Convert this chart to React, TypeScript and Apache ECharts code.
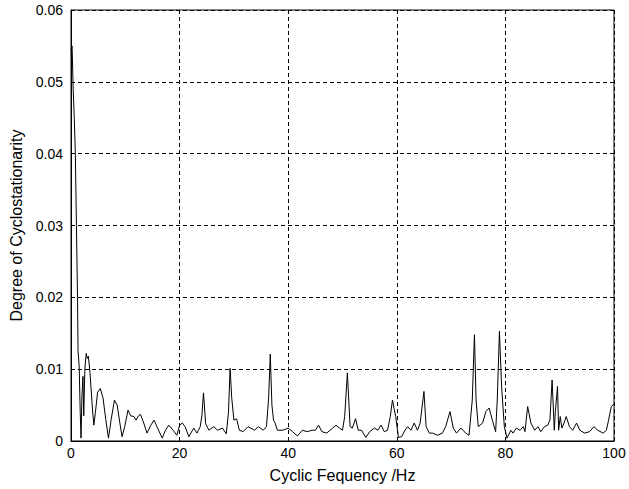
import React, { useEffect, useRef } from "react";
import * as echarts from "echarts";

const freqHz = [
  0, 0.2, 0.4, 0.6, 0.8, 1.0, 1.2, 1.3, 1.5, 1.7, 1.85, 2.0, 2.2, 2.35, 2.55, 2.8, 3.0, 3.2, 3.5, 3.9,
  4.2, 4.5, 4.9, 5.4, 5.9, 6.4, 6.9, 7.4, 8.0, 8.5, 9.0, 9.4, 9.9, 10.5, 11.0, 11.6, 12.0, 12.4, 12.8, 13.4,
  14.0, 14.7, 15.3, 16.0, 16.8, 17.4, 18.0, 18.8, 19.5, 20.0, 20.5, 21.0, 21.7, 22.6, 23.2, 23.8, 24.1, 24.4, 24.8, 25.4,
  26.3, 27.0, 27.9, 28.6, 29.0, 29.3, 29.6, 30.0, 30.5, 31.0, 31.7, 32.6, 33.8, 34.5, 35.4, 36.0, 36.4, 36.7, 37.0, 37.3,
  37.6, 38.0, 39.0, 40.0, 40.8, 41.7, 42.6, 43.5, 44.4, 45.0, 45.6, 46.2, 47.1, 47.7, 48.2, 48.8, 49.4, 50.0, 50.4, 50.9,
  51.4, 51.8, 52.4, 52.9, 53.5, 54.3, 55.0, 55.9, 56.5, 57.1, 57.7, 58.3, 58.8, 59.2, 59.5, 59.8, 60.3, 60.9, 61.5, 62.0,
  62.6, 63.2, 63.8, 64.3, 65.0, 65.4, 66.0, 66.6, 67.5, 68.4, 69.0, 69.8, 70.4, 71.0, 71.8, 72.7, 73.3, 73.9, 74.3, 74.6,
  75.0, 75.8, 76.4, 77.0, 77.6, 78.2, 78.5, 78.9, 79.3, 79.8, 80.3, 81.0, 81.4, 82.0, 82.7, 83.3, 83.6, 84.1, 84.7, 85.4,
  86.0, 86.5, 87.2, 87.8, 88.2, 88.6, 89.0, 89.2, 89.6, 89.8, 90.1, 90.4, 90.8, 91.2, 91.8, 92.4, 93.1, 93.7, 94.6, 95.5,
  96.3, 97.0, 98.0, 98.6, 99.0, 99.5, 99.8, 100
];

const degreeOfCyclostationarity = [
  0.0545, 0.055, 0.049, 0.045, 0.04, 0.03, 0.02, 0.0125, 0.0105, 0.004, 0.0004, 0.006, 0.009, 0.0035, 0.01, 0.0122, 0.0115, 0.0118, 0.0095, 0.005,
  0.0022, 0.004, 0.0068, 0.0073, 0.006, 0.003, 0.0004, 0.003, 0.0057, 0.005, 0.0025, 0.0006, 0.002, 0.0043, 0.0035, 0.0034, 0.0029, 0.0035, 0.0037, 0.0025,
  0.0011, 0.0022, 0.0029, 0.0017, 0.0004, 0.0015, 0.0022, 0.0015, 0.0008, 0.0022, 0.0025, 0.002, 0.0006, 0.0018, 0.0011, 0.002, 0.0035, 0.0067, 0.0024, 0.0015,
  0.002, 0.0015, 0.0018, 0.001, 0.004, 0.0101, 0.006, 0.0029, 0.0031, 0.0015, 0.0013, 0.002, 0.0015, 0.002, 0.0015, 0.002, 0.006, 0.0121, 0.005, 0.0029,
  0.0025, 0.0015, 0.0015, 0.0018, 0.0013, 0.0007, 0.0015, 0.0013, 0.0015, 0.0015, 0.0022, 0.0013, 0.0011, 0.0015, 0.0018, 0.0022, 0.0018, 0.0015, 0.0034, 0.0095,
  0.002, 0.0018, 0.0031, 0.0015, 0.0015, 0.0005, 0.0013, 0.0018, 0.0015, 0.0022, 0.0013, 0.0015, 0.0034, 0.0057, 0.0045, 0.0034, 0.0005, 0.0006, 0.0015, 0.002,
  0.0015, 0.0025, 0.0015, 0.0025, 0.0069, 0.002, 0.0011, 0.0011, 0.0008, 0.0011, 0.002, 0.0041, 0.0018, 0.0011, 0.0018, 0.0011, 0.0008, 0.0057, 0.0148, 0.0057,
  0.002, 0.0025, 0.0041, 0.0046, 0.0029, 0.0013, 0.0057, 0.0153, 0.0076, 0.002, 0.0004, 0.0015, 0.0011, 0.0018, 0.0015, 0.002, 0.0013, 0.0048, 0.0025, 0.0015,
  0.002, 0.0013, 0.002, 0.0022, 0.0029, 0.0085, 0.0015, 0.0041, 0.0076, 0.0015, 0.0034, 0.0018, 0.0025, 0.0034, 0.002, 0.0015, 0.0025, 0.0015, 0.0011, 0.0013,
  0.002, 0.0015, 0.0011, 0.0015, 0.0029, 0.0048, 0.005, 0.0052
];

const xTickValues = [0, 20, 40, 60, 80, 100];
const yTickValues = [0, 0.01, 0.02, 0.03, 0.04, 0.05, 0.06];

const xTitle = "Cyclic Fequency /Hz";
const yTitle = "Degree of Cyclostationarity";

export default function App() {
  const ref = useRef<HTMLDivElement>(null);

  useEffect(() => {
    if (!ref.current) return;
    const chart = echarts.init(ref.current, null, { renderer: "svg" });
    const seriesData = freqHz.map((f, i) => [f, degreeOfCyclostationarity[i]]);
    const font = "Liberation Sans, Arial, sans-serif";
    chart.setOption({
      animation: false,
      backgroundColor: "#ffffff",
      grid: {
        left: 71,
        right: 15,
        top: 10,
        bottom: 48,
        show: true,
        borderColor: "#000",
        borderWidth: 1,
        backgroundColor: "transparent",
      },
      xAxis: {
        type: "value",
        min: xTickValues[0],
        max: xTickValues[xTickValues.length - 1],
        interval: 20,
        name: xTitle,
        nameLocation: "middle",
        nameGap: 26,
        nameTextStyle: { color: "#000", fontSize: 16, fontFamily: font },
        axisLine: { show: true, lineStyle: { color: "#000", width: 1 } },
        axisTick: { show: true, inside: true, length: 4, lineStyle: { color: "#000" } },
        axisLabel: { color: "#000", fontSize: 14, fontFamily: font, margin: 5 },
        splitLine: { show: true, lineStyle: { color: "#000", type: [4, 3], width: 1 } },
      },
      yAxis: {
        type: "value",
        min: yTickValues[0],
        max: yTickValues[yTickValues.length - 1],
        interval: 0.01,
        name: yTitle,
        nameLocation: "middle",
        nameGap: 45,
        nameTextStyle: { color: "#000", fontSize: 16, fontFamily: font },
        axisLine: { show: true, lineStyle: { color: "#000", width: 1 } },
        axisTick: { show: true, inside: true, length: 4, lineStyle: { color: "#000" } },
        axisLabel: { color: "#000", fontSize: 14, fontFamily: font, margin: 8 },
        splitLine: { show: true, lineStyle: { color: "#000", type: [4, 3], width: 1 } },
      },
      series: [
        {
          type: "line",
          data: seriesData,
          showSymbol: false,
          symbol: "none",
          lineStyle: { color: "#000", width: 1 },
        },
      ],
    });
    return () => chart.dispose();
  }, []);

  return (
    <div
      ref={ref}
      style={{ position: "fixed", left: 0, top: 0, width: 629, height: 489, background: "#fff" }}
    />
  );
}
